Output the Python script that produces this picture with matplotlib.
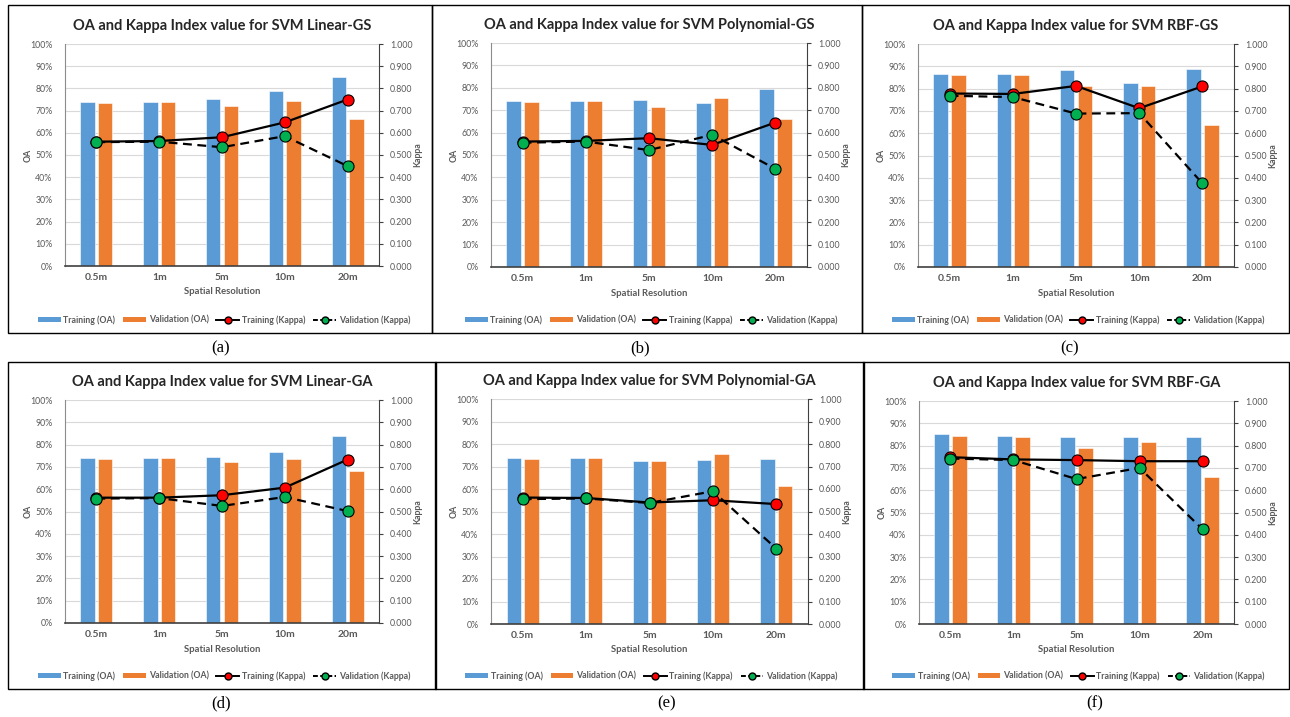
import numpy as np
import matplotlib
matplotlib.use('Agg')
import matplotlib.pyplot as plt
from matplotlib.patches import Rectangle, Patch
from matplotlib.lines import Line2D
from matplotlib.ticker import FuncFormatter

plt.rcParams['font.family'] = ['Lato', 'DejaVu Sans']

# Data
resolutions = ['0.5m', '1m', '5m', '10m', '20m']
captions = ['(a)', '(b)', '(c)', '(d)', '(e)', '(f)']
models = ['Linear-GS', 'Polynomial-GS', 'RBF-GS', 'Linear-GA', 'Polynomial-GA', 'RBF-GA']

train_oa = [
    [74.0, 74.0, 75.0, 79.0, 85.0],
    [74.0, 74.0, 74.5, 73.0, 79.5],
    [86.5, 86.5, 88.5, 82.5, 89.0],
    [74.0, 74.0, 74.5, 76.5, 84.0],
    [74.0, 74.0, 72.5, 73.0, 73.5],
    [85.0, 84.5, 84.0, 84.0, 84.0],
]
val_oa = [
    [73.5, 74.0, 72.0, 74.5, 66.0],
    [73.5, 74.0, 71.5, 75.5, 66.0],
    [86.0, 86.0, 81.0, 81.0, 63.5],
    [73.5, 74.0, 72.0, 73.5, 68.0],
    [73.5, 74.0, 72.5, 75.5, 61.5],
    [84.5, 84.0, 79.0, 81.5, 66.0],
]
train_kappa = [
    [0.560, 0.563, 0.580, 0.647, 0.750],
    [0.560, 0.563, 0.575, 0.545, 0.645],
    [0.778, 0.776, 0.812, 0.712, 0.810],
    [0.562, 0.562, 0.573, 0.607, 0.733],
    [0.562, 0.560, 0.540, 0.550, 0.533],
    [0.748, 0.738, 0.735, 0.730, 0.730],
]
val_kappa = [
    [0.558, 0.560, 0.535, 0.585, 0.450],
    [0.555, 0.560, 0.522, 0.590, 0.438],
    [0.768, 0.762, 0.688, 0.690, 0.375],
    [0.558, 0.560, 0.525, 0.565, 0.502],
    [0.555, 0.558, 0.538, 0.590, 0.335],
    [0.742, 0.735, 0.650, 0.700, 0.425],
]

W, H = 1290, 717
# panel frames and plot areas in pixels: (left, top, right, bottom)
boxes = [(8, 5, 432, 333), (432, 5, 862, 333), (862, 5, 1289, 333),
         (8, 362, 436, 689), (435, 362, 864, 689), (863, 362, 1289, 689)]
plot_areas = [(65, 44, 379, 266), (491, 43, 807, 267), (918, 44, 1234, 267),
              (65, 400, 379, 623), (491, 399, 808, 624), (919, 401, 1234, 624)]
caption_pos = [(221, 348), (640, 348), (1070, 348), (221, 703), (667, 703), (1095, 703)]

BLUE = '#5B9BD5'
ORANGE = '#ED7D31'
GREY = '#595959'

fig = plt.figure(figsize=(W / 100, H / 100), dpi=100)


def fx(px):
    return px / W


def fy(py):
    return 1 - py / H


x = np.arange(len(resolutions))

for i in range(6):
    bl, bt, br, bb = boxes[i]
    fig.patches.append(Rectangle((fx(bl), fy(bb)), fx(br - bl), (bb - bt) / H,
                                 transform=fig.transFigure, fill=False,
                                 edgecolor='black', lw=1.0))
    l, t, r, b = plot_areas[i]
    ax = fig.add_axes([fx(l), fy(b), fx(r - l), (b - t) / H])
    ax.bar(x - 0.14, train_oa[i], 0.23, color=BLUE, edgecolor='white', lw=0.4, zorder=2)
    ax.bar(x + 0.14, val_oa[i], 0.23, color=ORANGE, edgecolor='white', lw=0.4, zorder=2)
    ax.set_xlim(-0.5, 4.5)
    ax.set_ylim(0, 100)
    ax.set_yticks(np.arange(0, 101, 10))
    ax.yaxis.set_major_formatter(FuncFormatter(lambda v, p: f'{v:.0f}%'))
    ax.set_xticks(x)
    ax.set_xticklabels(resolutions, fontsize=7.5, color=GREY, fontweight='bold')
    ax.tick_params(axis='y', labelsize=6.3, labelcolor=GREY, length=0, pad=9)
    ax.tick_params(axis='x', length=0, pad=5)
    ax.grid(axis='y', color='#d9d9d9', lw=0.8)
    ax.set_axisbelow(True)
    for s in ['top', 'right']:
        ax.spines[s].set_visible(False)
    ax.spines['left'].set_color('#8c8c8c')
    ax.spines['bottom'].set_color('#404040')
    ax.spines['bottom'].set_linewidth(1.2)
    ax.set_xlabel('Spatial Resolution', fontsize=6.8, color=GREY, fontweight='bold', labelpad=4)

    ax2 = ax.twinx()
    ax2.set_ylim(0, 1)
    ax2.set_yticks(np.arange(0, 1.01, 0.1))
    ax2.yaxis.set_major_formatter(FuncFormatter(lambda v, p: f'{v:.3f}'))
    ax2.tick_params(axis='y', labelsize=6.3, labelcolor=GREY, length=3, width=0.8,
                    color='#404040', pad=5)
    for s in ['top', 'left', 'bottom']:
        ax2.spines[s].set_visible(False)
    ax2.spines['right'].set_color('#404040')

    # axis titles placed by hand, both reading bottom to top
    mid_y = fy((t + b) / 2)
    fig.text(fx(l - 37), mid_y, 'OA', rotation=90, ha='center', va='center',
             fontsize=6.3, color=GREY, fontweight='bold')
    fig.text(fx(r + 39), mid_y, 'Kappa', rotation=90, ha='center', va='center',
             fontsize=6.3, color=GREY, fontweight='bold')

    ax2.plot(x, train_kappa[i], '-', color='black', lw=1.6, marker='o',
             mfc='#FF0000', mec='black', mew=0.8, ms=8, zorder=3)
    ax2.plot(x, val_kappa[i], '--', color='black', lw=1.6, dashes=(4, 2.5),
             marker='o', mfc='#00B050', mec='black', mew=0.8, ms=8, zorder=4)

    ax.set_title('OA and Kappa Index value for SVM ' + models[i], fontsize=10.5,
                 fontweight='bold', color='#262626', pad=10)

    handles = [
        Patch(facecolor=BLUE, edgecolor='none'),
        Patch(facecolor=ORANGE, edgecolor='none'),
        Line2D([], [], color='black', lw=1.4, marker='o', mfc='#FF0000', mec='black', ms=5),
        Line2D([], [], color='black', lw=1.4, ls='--', dashes=(2.5, 1.2), marker='o',
               mfc='#00B050', mec='black', ms=5),
    ]
    labels = ['Training (OA)', 'Validation (OA)', 'Training (Kappa)', 'Validation (Kappa)']
    leg_y = (bb - 13)
    leg = fig.legend(handles, labels, loc='center', ncol=4, frameon=False,
                     bbox_to_anchor=(fx((l + r) / 2 + 2), fy(leg_y)),
                     fontsize=6.3, handlelength=2.6, handleheight=0.5,
                     columnspacing=0.9, handletextpad=0.3)
    for txt in leg.get_texts():
        txt.set_color(GREY)
        txt.set_fontweight('bold')

    cx, cy = caption_pos[i]
    fig.text(fx(cx), fy(cy), captions[i], ha='center', va='center',
             fontsize=12, family='Liberation Serif')

fig.savefig('out.png', dpi=100)
